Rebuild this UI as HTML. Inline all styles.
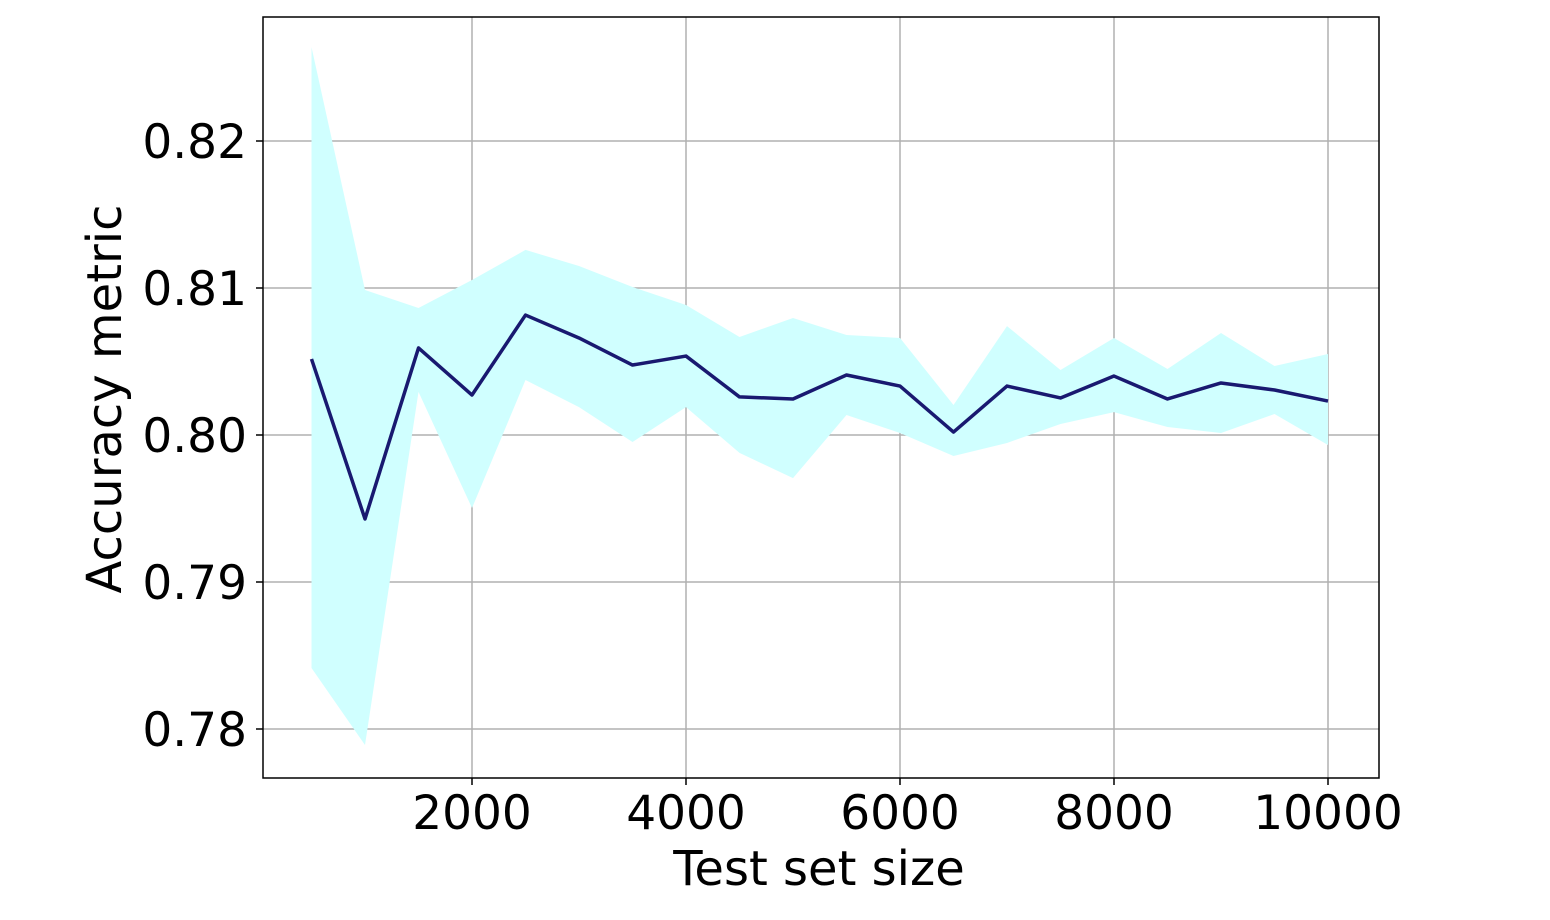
<!DOCTYPE html>
<html><head><meta charset="utf-8"><style>
html,body{margin:0;padding:0;background:#fff;}
svg{display:block;font-family:"DejaVu Sans","Liberation Sans",sans-serif;}
</style></head><body>
<svg id="chart" width="1550" height="920"></svg>
<script>
const sizes=[500,1000,1500,2000,2500,3000,3500,4000,4500,5000,5500,6000,6500,7000,7500,8000,8500,9000,9500,10000];
const meanAcc=[0.80517,0.79429,0.80592,0.80272,0.80816,0.80660,0.80476,0.80537,0.80259,0.80245,0.80408,0.80333,0.80020,0.80333,0.80252,0.80401,0.80245,0.80354,0.80306,0.80231];
const upperAcc=[0.82639,0.80986,0.80864,0.81054,0.81259,0.81150,0.81007,0.80884,0.80667,0.80796,0.80680,0.80660,0.80204,0.80741,0.80442,0.80660,0.80449,0.80694,0.80469,0.80551];
const lowerAcc=[0.78415,0.77891,0.80293,0.79503,0.80374,0.80190,0.79952,0.80190,0.79878,0.79707,0.80136,0.80014,0.79857,0.79946,0.80075,0.80156,0.80054,0.80014,0.80143,0.79932];
const xTicks=[2000,4000,6000,8000,10000];
const yTicks=[0.78,0.79,0.80,0.81,0.82];
const yTickLabels=["0.78","0.79","0.80","0.81","0.82"];

const L=263,R=1379,T=17,B=778;
const xs=v=>258+(v)*0.107;
const ys=v=>435-(v-0.80)*14700;
const NS="http://www.w3.org/2000/svg";
const svg=document.getElementById('chart');
function mk(tag,attrs,parent){const e=document.createElementNS(NS,tag);for(const k in attrs)e.setAttribute(k,attrs[k]);(parent||svg).appendChild(e);return e;}

xTicks.forEach(t=>{
  const g=mk('line',{x1:xs(t),x2:xs(t),y1:T,y2:B,stroke:'#b0b0b0','stroke-width':1.5});
  
  
});
yTicks.forEach(t=>{
  const g=mk('line',{x1:L,x2:R,y1:ys(t),y2:ys(t),stroke:'#b0b0b0','stroke-width':1.5});
  
  
});

let pts=sizes.map((s,i)=>xs(s)+','+ys(upperAcc[i]));
for(let i=sizes.length-1;i>=0;i--)pts.push(xs(sizes[i])+','+ys(lowerAcc[i]));
const band=mk('polygon',{points:pts.join(' '),fill:'#d0ffff',stroke:'none'});



const line=mk('polyline',{points:sizes.map((s,i)=>xs(s)+','+ys(meanAcc[i])).join(' '),fill:'none',stroke:'#191970','stroke-width':3.5,'stroke-linejoin':'round'});



const fr=mk('rect',{x:L,y:T,width:R-L,height:B-T,fill:'none',stroke:'#000','stroke-width':1.5});



xTicks.forEach(t=>{
  const tk=mk('line',{x1:xs(t),x2:xs(t),y1:B,y2:B+7,stroke:'#000','stroke-width':1.5});
  
  
  const tx=mk('text',{x:xs(t),y:B+51,'text-anchor':'middle','font-size':47,fill:'#000'});
  tx.textContent=String(t);
  
  
});
yTicks.forEach((t,i)=>{
  const tk=mk('line',{x1:L-7,x2:L,y1:ys(t),y2:ys(t),stroke:'#000','stroke-width':1.5});
  
  
  const tx=mk('text',{x:L-16,y:ys(t)+17,'text-anchor':'end','font-size':47,fill:'#000'});
  tx.textContent=yTickLabels[i];
  
  
});

const xt=mk('text',{x:819,y:885,'text-anchor':'middle','font-size':48,fill:'#000'});
xt.textContent='Test set size';


const yt=mk('text',{x:0,y:0,'text-anchor':'middle','font-size':48,fill:'#000',transform:'translate(121,399) rotate(-90)'});
yt.textContent='Accuracy metric';


</script>
</body></html>
